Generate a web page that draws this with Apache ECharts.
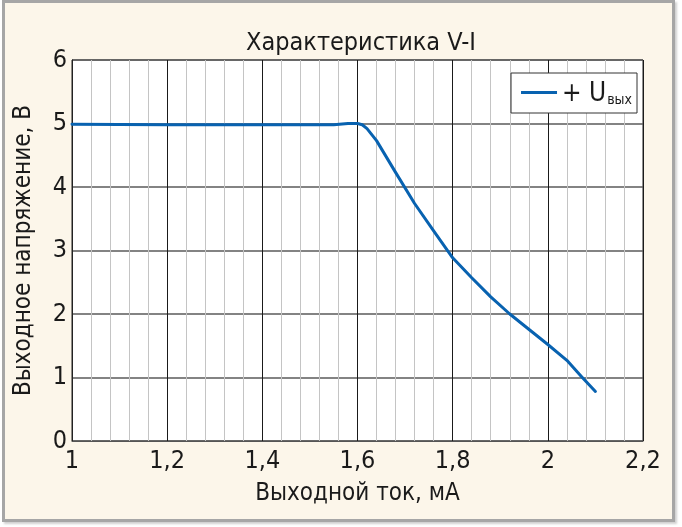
<!DOCTYPE html>
<html>
<head>
<meta charset="utf-8">
<script src="https://cdn.jsdelivr.net/npm/echarts@6/dist/echarts.min.js"></script>
<style>
  html, body { margin: 0; padding: 0; background: #fff; }
  #frame {
    position: absolute; left: 2px; top: 0; width: 667px; height: 516px;
    border: 3.5px solid #a6a6a6; background: #fcf6ea;
    box-shadow: 2px 2px 2px #d0d0d0;
  }
  #chart { position: absolute; left: 0; top: 0; width: 682px; height: 527px; }
</style>
</head>
<body>
<div id="frame"></div>
<div id="chart"></div>
<script>
// ток, мА
const current = [1, 1.2, 1.4, 1.55, 1.58, 1.6, 1.61, 1.62, 1.64, 1.68, 1.72, 1.76, 1.8,
  1.84, 1.88, 1.92, 1.96, 2.0, 2.04, 2.07, 2.1]
// напряжение, В
const voltage = [4.99, 4.98, 4.98, 4.98, 5.0, 5.0, 4.98, 4.92, 4.73, 4.23, 3.74, 3.31, 2.885,
  2.57, 2.27, 2.0, 1.76, 1.52, 1.27, 1.02, 0.78]

const font = "'DejaVu Sans Condensed', Roboto, sans-serif"
const fmt = (v) => String(Math.round(v * 10) / 10).replace('.', ',')

const chart = echarts.init(document.getElementById('chart'))
chart.setOption({
  backgroundColor: 'transparent',
  title: {
    text: 'Характеристика V-I',
    left: 356, top: 26, textAlign: 'center',
    textStyle: { fontFamily: font, fontSize: 25, fontWeight: 'normal', color: '#1a1a1a' },
  },
  legend: {
    right: 45, top: 73,
    padding: [8, 5, 6, 10],
    backgroundColor: '#fff',
    borderColor: '#333', borderWidth: 1, borderRadius: 0,
    itemWidth: 36, itemHeight: 3, itemGap: 3,
    icon: 'rect',
    formatter: () => '{a|+ U}{b|вых}',
    textStyle: {
      fontFamily: font, color: '#1a1a1a',
      rich: {
        a: { fontFamily: font, fontSize: 26, color: '#1a1a1a', verticalAlign: 'bottom' },
        b: { fontFamily: font, fontSize: 14, color: '#1a1a1a', verticalAlign: 'bottom', padding: [15, 0, 0, 1] },
      },
    },
  },
  grid: {
    left: 72, right: 39, top: 60, bottom: 86,
    outerBoundsMode: 'none',
    show: true, backgroundColor: '#fff', borderColor: '#222', borderWidth: 1,
  },
  xAxis: {
    type: 'value', min: 1, max: 2.2, interval: 0.2,
    name: 'Выходной ток, мА', nameLocation: 'middle', nameGap: 41, nameMoveOverlap: false,
    nameTextStyle: { fontFamily: font, fontSize: 24, color: '#1a1a1a' },
    axisLine: { show: true, lineStyle: { color: '#555', width: 1 } },
    axisTick: { show: false },
    axisLabel: { fontFamily: font, fontSize: 25, color: '#1a1a1a', margin: 8, formatter: fmt },
    splitLine: { show: true, lineStyle: { color: '#1a1a1a', width: 1 } },
    minorTick: { show: false, splitNumber: 5 },
    minorSplitLine: { show: true, lineStyle: { color: '#c4c4c4', width: 1 } },
  },
  yAxis: {
    type: 'value', min: 0, max: 6, interval: 1,
    name: 'Выходное напряжение, В', nameLocation: 'middle', nameGap: 36, nameMoveOverlap: false,
    nameTextStyle: { fontFamily: font, fontSize: 24, color: '#1a1a1a' },
    axisLine: { show: true, lineStyle: { color: '#222', width: 1 } },
    axisTick: { show: false },
    axisLabel: { fontFamily: font, fontSize: 25, color: '#1a1a1a', margin: 5 },
    splitLine: { show: true, lineStyle: { color: '#5a5a5a', width: 1.5 } },
  },
  series: [
    {
      name: '+ Uвых',
      type: 'line',
      data: current.map((x, i) => [x, voltage[i]]),
      smooth: false,
      showSymbol: false,
      lineStyle: { color: '#0862b0', width: 3, join: 'round', cap: 'round' },
      itemStyle: { color: '#0862b0' },
    },
  ],
})
</script>
</body>
</html>
